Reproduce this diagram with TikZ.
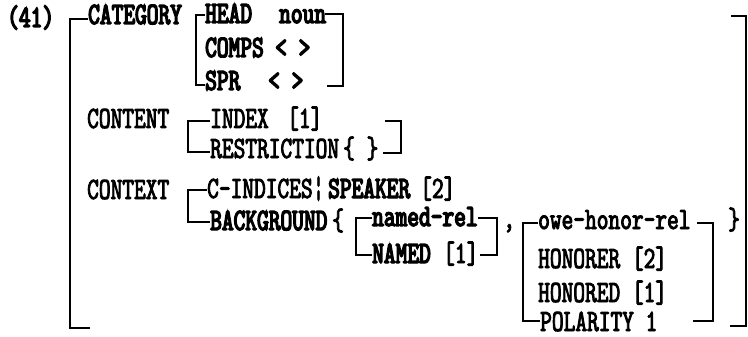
\documentclass[tikz,border=0pt]{standalone}
\usepackage{fontspec}
\newfontfamily\avmb{lmmono10-regular.otf}[FakeBold=4.5, FakeStretch=0.72]
\newfontfamily\avml{lmmono10-regular.otf}[FakeBold=2.8, FakeStretch=0.72]
\begin{document}
\begin{tikzpicture}[x=1pt,y=-1pt,
  tb/.style={anchor=base west,inner sep=0pt,font=\fontsize{31}{31}\avmb},
  tl/.style={anchor=base west,inner sep=0pt,font=\fontsize{31}{31}\avml},
  br/.style={line width=2.2pt,line join=miter,line cap=butt}]
\useasboundingbox (0,0) rectangle (748,337);
% labels
\node[tb] (n41) at (7,27) {(41)};
\node[tb] (cat) at (88,24) {CATEGORY};
\node[tb] (head) at (205,23) {HEAD};
\node[tb] (noun) at (279,23) {noun};
\node[tb] (comps) at (205,57) {COMPS};
\node[tb] (ca) at (275,57) {< >};
\node[tb] (spr) at (205,90) {SPR};
\node[tb] (sa) at (268,90) {< >};
\node[tl] (content) at (87,128) {CONTENT};
\node[tl] (index) at (210,128) {INDEX};
\node[tl] (i1) at (287,128) {[1]};
\node[tl] (restr) at (210,158) {RESTRICTION};
\node[tl] (rset) at (343,158) {\{ \}};
\node[tl] (context) at (87,199) {CONTEXT};
\node[tl] (cind) at (207,198) {C-INDICES¦};
\node[tb] (speaker) at (328,198) {SPEAKER};
\node[tl] (s2) at (420,198) {[2]};
\node[tb] (bg) at (210,230) {BACKGROUND};
\node[tl] (lbr) at (332,230) {\{};
\node[tb] (namedrel) at (372,226) {named-rel};
\node[tb] (named) at (372,263) {NAMED};
\node[tl] (n1) at (443,263) {[1]};
\node[tl] (comma) at (503,228) {,};
\node[tl] (owe) at (538,229) {owe-honor-rel};
\node[tl] (honorer) at (538,268) {HONORER [2]};
\node[tl] (honored) at (538,302) {HONORED [1]};
\node[tl] (pol) at (540,331) {POLARITY 1};
\node[tl] (rbr) at (728,229) {\}};
% outer brackets
\draw[br] (88,19) -- (70,19) -- (70,328) -- (90,328);
\draw[br] (731,16) -- (746,16) -- (746,326) -- (730,326);
% category
\draw[br] (205,15) -- (196,15) -- (196,85) -- (205,85);
\draw[br] (325,14) -- (343,14) -- (343,86) -- (327,86);
% content
\draw[br] (210,121) -- (188,121) -- (188,152) -- (210,152);
\draw[br] (385,121) -- (401,121) -- (401,153) -- (383,153);
% context
\draw[br] (207,190) -- (188,190) -- (188,222) -- (210,222);
% named-rel
\draw[br] (372,218) -- (356,218) -- (356,255) -- (372,255);
\draw[br] (478,218) -- (497,218) -- (497,255) -- (480,255);
% owe-honor-rel
\draw[br] (538,223) -- (523,223) -- (523,321) -- (540,321);
\draw[br] (697,223) -- (713,223) -- (713,321) -- (693,321);
\end{tikzpicture}
\end{document}
